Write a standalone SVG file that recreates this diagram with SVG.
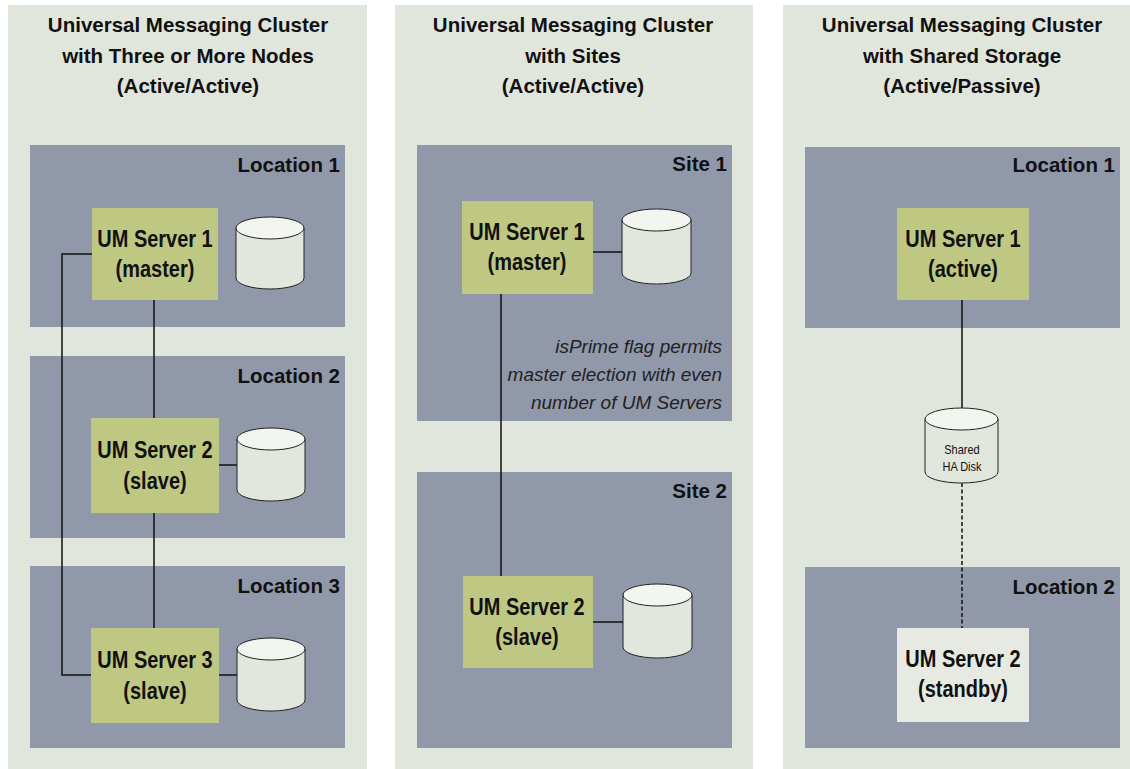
<svg xmlns="http://www.w3.org/2000/svg" width="1130" height="769" viewBox="0 0 1130 769">
<defs>
<style>
.bg{fill:#ffffff}
.panel{fill:#e1e6dd}
.loc{fill:#9198aa}
.srv{fill:#bec882}
.stby{fill:#e6eae2}
.cylb{fill:#e2e7de;stroke:#222;stroke-width:1}
.cylt{fill:#f3f5f1;stroke:#222;stroke-width:1}
.t{font-family:"Liberation Sans",Arial,sans-serif;fill:#111}
.title{font-size:20.5px;font-weight:bold;text-anchor:middle}
.lbl{font-size:20.5px;font-weight:bold;text-anchor:end}
.sv{font-size:23.5px;font-weight:bold;text-anchor:middle}
.note{font-size:19px;font-style:italic;text-anchor:end;fill:#222}
.small{font-size:12.5px;text-anchor:middle}
.ln{fill:none;stroke:#111;stroke-width:1.5}
.dash{fill:none;stroke:#111;stroke-width:1.5;stroke-dasharray:4 2.5}
</style>
</defs>
<rect class="bg" x="0" y="0" width="1130" height="769"/>

<g id="panel1">
<rect class="panel" x="8" y="5" width="359" height="764"/>
<text class="t title" x="188" y="32">Universal Messaging Cluster</text>
<text class="t title" x="188" y="63">with Three or More Nodes</text>
<text class="t title" x="188" y="93">(Active/Active)</text>
</g>
<g id="panel2">
<rect class="panel" x="395" y="5" width="358" height="764"/>
<text class="t title" x="573" y="32">Universal Messaging Cluster</text>
<text class="t title" x="573" y="63">with Sites</text>
<text class="t title" x="573" y="93">(Active/Active)</text>
</g>
<g id="panel3">
<rect class="panel" x="783" y="5" width="347" height="764"/>
<text class="t title" x="962" y="32">Universal Messaging Cluster</text>
<text class="t title" x="962" y="63">with Shared Storage</text>
<text class="t title" x="962" y="93">(Active/Passive)</text>
</g>

<g id="p1-location1">
<rect class="loc" x="30" y="145" width="315" height="182"/>
<text class="t lbl" x="340" y="172">Location 1</text>
</g>
<g id="p1-location2">
<rect class="loc" x="30" y="356" width="315" height="182"/>
<text class="t lbl" x="340" y="383">Location 2</text>
</g>
<g id="p1-location3">
<rect class="loc" x="30" y="566" width="315" height="182"/>
<text class="t lbl" x="340" y="593">Location 3</text>
</g>
<g id="p2-site1">
<rect class="loc" x="417" y="145" width="315" height="276"/>
<text class="t lbl" x="727" y="171">Site 1</text>
<text class="t note" x="722" y="353">isPrime flag permits</text>
<text class="t note" x="722" y="381">master election with even</text>
<text class="t note" x="722" y="409">number of UM Servers</text>
</g>
<g id="p2-site2">
<rect class="loc" x="417" y="472" width="315" height="276"/>
<text class="t lbl" x="727" y="498">Site 2</text>
</g>
<g id="p3-location1">
<rect class="loc" x="805" y="147" width="315" height="181"/>
<text class="t lbl" x="1115" y="172">Location 1</text>
</g>
<g id="p3-location2">
<rect class="loc" x="805" y="567" width="315" height="181"/>
<text class="t lbl" x="1115" y="594">Location 2</text>
</g>

<g id="connectors">
<path class="ln" d="M92,254 H62 V675 H92"/>
<path class="ln" d="M154,300 V418"/>
<path class="ln" d="M154,513 V628"/>
<path class="ln" d="M219,465 H237"/>
<path class="ln" d="M219,675 H237"/>
<path class="ln" d="M501,294 V576"/>
<path class="ln" d="M593,252 H623"/>
<path class="ln" d="M593,622 H623"/>
<path class="ln" d="M962,300 V408"/>
<path class="dash" d="M962,483 V628"/>
</g>

<g id="p1-server1">
<rect class="srv" x="92" y="208" width="126" height="92"/>
<text class="t sv" transform="translate(155 247) scale(0.85 1)">UM Server 1</text>
<text class="t sv" transform="translate(155 277) scale(0.85 1)">(master)</text>
</g>
<g id="p1-disk1">
<path class="cylb" d="M236,228 V278 A34,11 0 0 0 304,278 V228"/>
<ellipse class="cylt" cx="270" cy="228" rx="34" ry="11"/>
</g>
<g id="p1-server2">
<rect class="srv" x="91" y="418" width="128" height="95"/>
<text class="t sv" transform="translate(155 458) scale(0.85 1)">UM Server 2</text>
<text class="t sv" transform="translate(155 489) scale(0.85 1)">(slave)</text>
</g>
<g id="p1-disk2">
<path class="cylb" d="M237,439 V490 A34,11 0 0 0 305,490 V439"/>
<ellipse class="cylt" cx="271" cy="439" rx="34" ry="11"/>
</g>
<g id="p1-server3">
<rect class="srv" x="91" y="628" width="128" height="95"/>
<text class="t sv" transform="translate(155 668) scale(0.85 1)">UM Server 3</text>
<text class="t sv" transform="translate(155 699) scale(0.85 1)">(slave)</text>
</g>
<g id="p1-disk3">
<path class="cylb" d="M237,649 V700 A34,11 0 0 0 305,700 V649"/>
<ellipse class="cylt" cx="271" cy="649" rx="34" ry="11"/>
</g>

<g id="p2-server1">
<rect class="srv" x="462" y="201" width="131" height="93"/>
<text class="t sv" transform="translate(527 240) scale(0.85 1)">UM Server 1</text>
<text class="t sv" transform="translate(527 270) scale(0.85 1)">(master)</text>
</g>
<g id="p2-disk1">
<path class="cylb" d="M622,220 V273 A34.5,11 0 0 0 691,273 V220"/>
<ellipse class="cylt" cx="656.5" cy="220" rx="34.5" ry="11"/>
</g>
<g id="p2-server2">
<rect class="srv" x="463" y="576" width="130" height="92"/>
<text class="t sv" transform="translate(527 615) scale(0.85 1)">UM Server 2</text>
<text class="t sv" transform="translate(527 645) scale(0.85 1)">(slave)</text>
</g>
<g id="p2-disk2">
<path class="cylb" d="M623,595 V647 A34.5,11 0 0 0 692,647 V595"/>
<ellipse class="cylt" cx="657.5" cy="595" rx="34.5" ry="11"/>
</g>

<g id="p3-server1">
<rect class="srv" x="897" y="208" width="132" height="92"/>
<text class="t sv" transform="translate(963 247) scale(0.85 1)">UM Server 1</text>
<text class="t sv" transform="translate(963 277) scale(0.85 1)">(active)</text>
</g>
<g id="p3-shared-disk">
<path class="cylb" d="M925,419 V472 A36.5,11 0 0 0 998,472 V419"/>
<ellipse class="cylt" cx="961.5" cy="419" rx="36.5" ry="11"/>
<text class="t small" transform="translate(962 454) scale(0.88 1)">Shared</text>
<text class="t small" transform="translate(962 471) scale(0.88 1)">HA Disk</text>
</g>
<g id="p3-server2">
<rect class="stby" x="897" y="628" width="132" height="94"/>
<text class="t sv" transform="translate(963 667) scale(0.85 1)">UM Server 2</text>
<text class="t sv" transform="translate(963 697) scale(0.85 1)">(standby)</text>
</g>
</svg>
